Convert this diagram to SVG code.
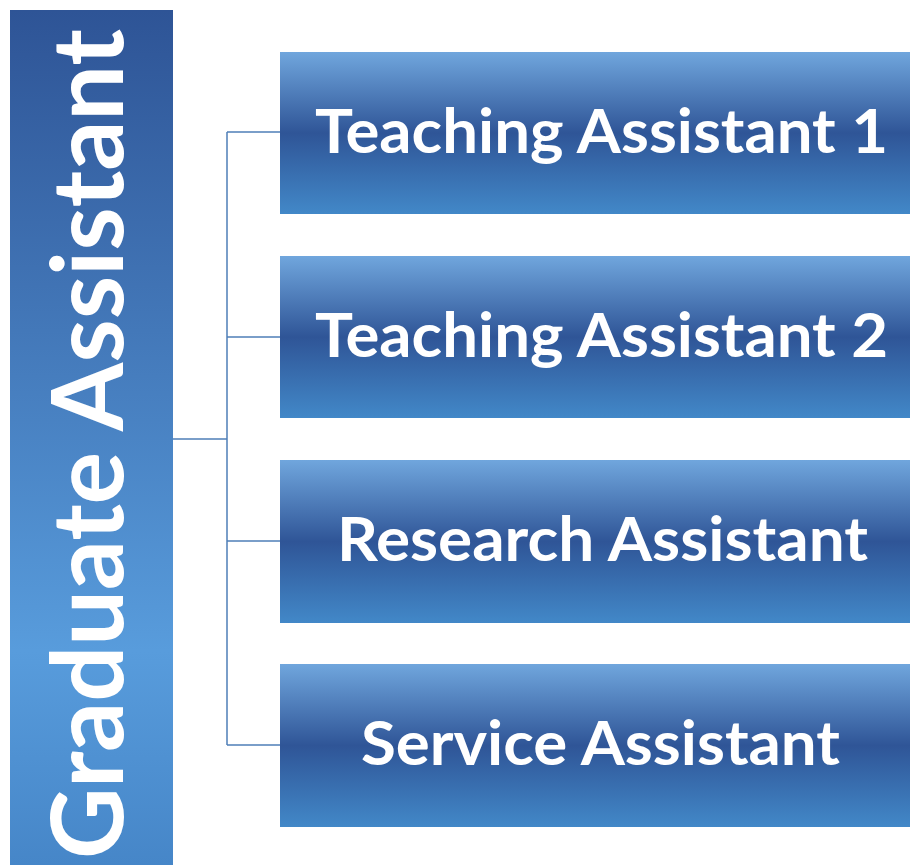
<svg xmlns="http://www.w3.org/2000/svg" width="910" height="865" viewBox="0 0 910 865">
<defs>
<linearGradient id="barGrad" x1="0" y1="0" x2="0" y2="1">
<stop offset="0" stop-color="#2E5496"/>
<stop offset="0.75" stop-color="#589CDC"/>
<stop offset="1" stop-color="#4686C8"/>
</linearGradient>
<linearGradient id="boxGrad" x1="0" y1="0" x2="0" y2="1">
<stop offset="0" stop-color="#70A6DD"/>
<stop offset="0.5" stop-color="#2F5597"/>
<stop offset="1" stop-color="#4288C8"/>
</linearGradient>
<style>
.box{fill:url(#boxGrad);}
.lbl{fill:#FFFFFF;font-family:Lato,"Open Sans","Liberation Sans",sans-serif;font-weight:bold;font-size:62px;}
.big{font-size:99px;}
.conn{stroke:#4F7FB8;stroke-width:1.5;fill:none;}
</style>
</defs>
<g id="graduate-assistant">
<rect x="10" y="10" width="163" height="855" fill="url(#barGrad)"/>
<text class="lbl big" transform="translate(123,859) rotate(-90)" x="0" y="0" textLength="830" lengthAdjust="spacingAndGlyphs">Graduate Assistant</text>
</g>
<g id="connectors">
<path class="conn" d="M173,439 H227 M227,132 V745 M227,132 H280 M227,337 H280 M227,541 H280 M227,745 H280"/>
</g>
<g id="ta1">
<rect class="box" x="280" y="52" width="630" height="162"/>
<text class="lbl" x="315" y="153" textLength="573" lengthAdjust="spacingAndGlyphs">Teaching Assistant 1</text>
</g>
<g id="ta2">
<rect class="box" x="280" y="256" width="630" height="162"/>
<text class="lbl" x="315" y="357" textLength="573" lengthAdjust="spacingAndGlyphs">Teaching Assistant 2</text>
</g>
<g id="ra">
<rect class="box" x="280" y="460" width="630" height="163"/>
<text class="lbl" x="337" y="561" textLength="531" lengthAdjust="spacingAndGlyphs">Research Assistant</text>
</g>
<g id="sa">
<rect class="box" x="280" y="664" width="630" height="163"/>
<text class="lbl" x="361" y="765" textLength="479" lengthAdjust="spacingAndGlyphs">Service Assistant</text>
</g>
</svg>
